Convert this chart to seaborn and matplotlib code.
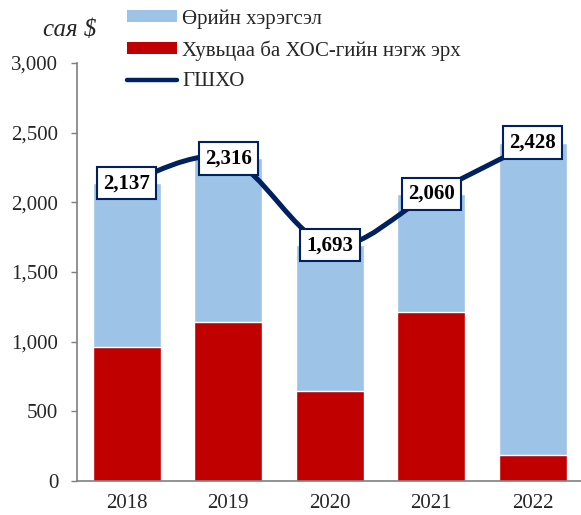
import matplotlib
matplotlib.use("Agg")
import matplotlib.pyplot as plt
import numpy as np
import pandas as pd
import seaborn as sns
from matplotlib.path import Path
from matplotlib.patches import PathPatch, Patch
from matplotlib.lines import Line2D
from matplotlib.ticker import FuncFormatter

years = ["2018", "2019", "2020", "2021", "2022"]
equity = [960, 1141, 649, 1211, 187]       # Хувьцаа ба ХОС-гийн нэгж эрх
debt = [1177, 1175, 1044, 849, 2241]       # Өрийн хэрэгсэл
total = [e + d for e, d in zip(equity, debt)]  # ГШХО

BLUE = "#9DC3E6"
RED = "#C00000"
NAVY = "#002060"
GREY = "#7F7F7F"

sns.set_style("white")
plt.rcParams["font.family"] = ["Liberation Serif", "DejaVu Serif"]

df = pd.DataFrame({"year": years, "equity": equity, "debt": debt, "total": total})

fig = plt.figure(figsize=(5.81, 5.15), dpi=100)
ax = fig.add_axes([0.1325, 0.066, 0.8675, 0.8117])

# stacked bars: total in blue, equity in red on top of it
sns.barplot(data=df, x="year", y="total", color=BLUE, saturation=1, width=0.67, ax=ax, zorder=1)
sns.barplot(data=df, x="year", y="equity", color=RED, saturation=1, width=0.67, ax=ax, zorder=2)

# smoothed total line (Catmull-Rom as cubic bezier, like Excel smoothing)
xs = np.arange(len(years), dtype=float)
ys = np.array(total, dtype=float)
pts = np.column_stack([xs, ys])
ext = np.vstack([pts[0], pts, pts[-1]])
verts = [tuple(pts[0])]
codes = [Path.MOVETO]
for i in range(len(pts) - 1):
    p0, p1, p2, p3 = ext[i], ext[i + 1], ext[i + 2], ext[i + 3]
    c1 = p1 + (p2 - p0) / 6.0
    c2 = p2 - (p3 - p1) / 6.0
    verts += [tuple(c1), tuple(c2), tuple(p2)]
    codes += [Path.CURVE4, Path.CURVE4, Path.CURVE4]
ax.add_patch(PathPatch(Path(verts, codes), facecolor="none", edgecolor=NAVY,
                       lw=3.6, capstyle="round", joinstyle="round", zorder=3))

for x, v in zip(xs, total):
    ax.text(x, v, f"{v:,}", ha="center", va="center", fontsize=15, fontweight="bold",
            color="black", zorder=5,
            bbox=dict(boxstyle="square,pad=0.3", facecolor="white", edgecolor=NAVY, lw=1.5))

ax.set_ylim(0, 3000)
ax.set_xlim(-0.49, 4.475)
ax.set_yticks(range(0, 3001, 500))
ax.yaxis.set_major_formatter(FuncFormatter(lambda v, p: f"{int(v):,}"))
ax.set_xlabel("")
ax.set_ylabel("")
for s in ["top", "right"]:
    ax.spines[s].set_visible(False)
for s in ["left", "bottom"]:
    ax.spines[s].set_color(GREY)
    ax.spines[s].set_linewidth(1.2)
ax.tick_params(axis="y", length=4.5, width=1, color=GREY, pad=9, labelsize=15, direction="out", left=True)
ax.tick_params(axis="x", length=0, pad=9, labelsize=15)

fig.text(0.1196, 0.9417, "сая $", fontsize=18, style="italic", ha="center", va="center")

handles = [
    Patch(facecolor=BLUE, edgecolor="none"),
    Patch(facecolor=RED, edgecolor="none"),
    Line2D([0], [0], color=NAVY, lw=3.2, solid_capstyle="round"),
]
labels = ["Өрийн хэрэгсэл", "Хувьцаа ба ХОС-гийн нэгж эрх", "ГШХО"]
fig.legend(handles, labels, loc="upper left", bbox_to_anchor=(0.2186, 0.9825), frameon=False,
           fontsize=15, borderpad=0, borderaxespad=0, labelspacing=0.56,
           handlelength=2.4, handleheight=0.53, handletextpad=0.25)

fig.savefig("out.png", dpi=100)
